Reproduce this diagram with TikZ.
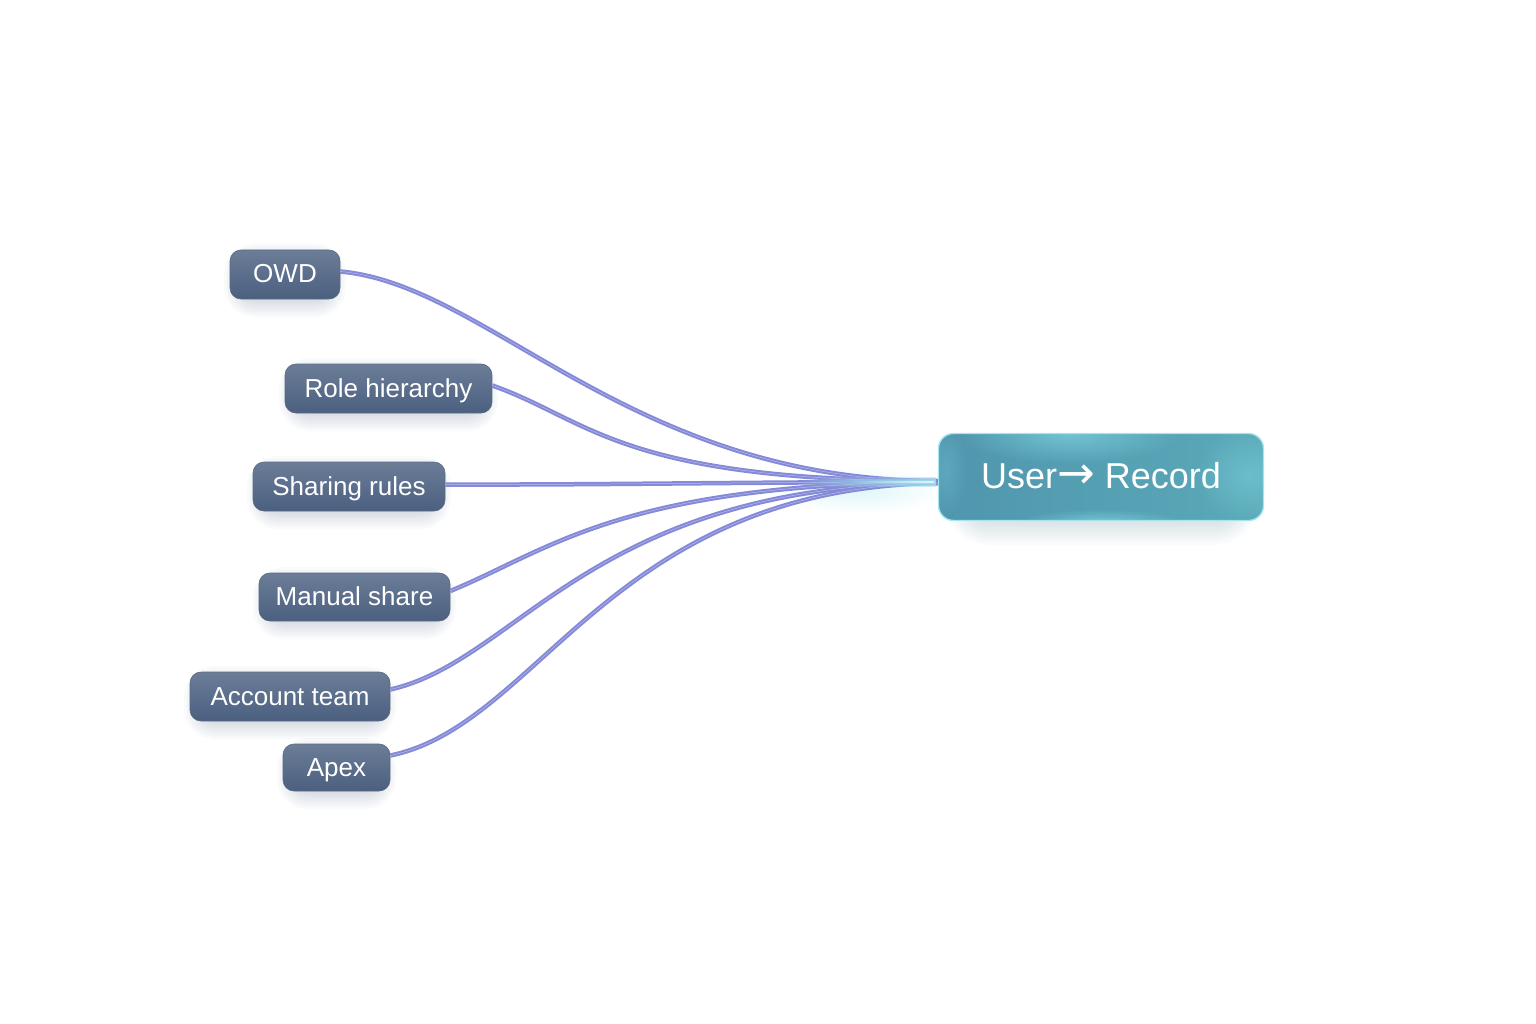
\documentclass[tikz,border=0pt]{standalone}
\usepackage{fontspec}
\setmainfont{Liberation Sans}
\newfontfamily\arrowfont{DejaVu Sans}
\usetikzlibrary{fadings}
\definecolor{linkcol}{HTML}{8489D8}
\definecolor{linklight}{HTML}{B4B8EC}
\definecolor{slatetop}{HTML}{6B7D97}
\definecolor{slatebot}{HTML}{4B5F80}
\definecolor{tealleft}{HTML}{5096AE}
\definecolor{tealright}{HTML}{5AA9B8}
\definecolor{glowcol}{HTML}{86DCE8}
\tikzfading[name=softspot, inner color=transparent!15, outer color=transparent!100]
\tikzfading[name=fadeinright, left color=transparent!100, right color=transparent!0]
\tikzset{
	source/.style={rounded corners=11pt, top color=slatetop, bottom color=slatebot, draw=slatetop!85!black, line width=0.6pt, text=white, font=\fontsize{26}{30}\selectfont, inner sep=0pt, text height=23pt, text depth=6pt},
	goal/.style={rounded corners=15pt, left color=tealleft, right color=tealright, draw=glowcol!75!white, line width=1.4pt, text=white, font=\fontsize{36}{42}\selectfont, inner sep=0pt},
	link/.style={draw=linkcol, line width=2pt, double=linklight, double distance=0.5pt},
}
\begin{document}
\begin{tikzpicture}[x=1pt,y=-1pt]
	\useasboundingbox (0,0) rectangle (1536,1024);
	% shadows and boxes on the left
	\foreach \nm/\cx/\cy/\bw/\bh/\lbl in {owd/285/274.5/110/49/OWD, role/388.5/388.5/207/49/Role hierarchy, sharing/349/486.5/192/49/Sharing rules, manual/354.5/597/191/48/Manual share, account/290/696.5/200/49/Account team, apex/336.5/767.5/107/47/Apex} {
		\foreach \s in {1,...,8}
			\draw[line width=5*\s pt, rounded corners=11pt, draw=slatebot, fill=slatebot, opacity=0.03] (\cx-\bw/2+14,\cy-\bh/2+14) rectangle (\cx+\bw/2-14,\cy+\bh/2-2);
		\node[source, minimum width=\bw pt, minimum height=\bh pt] (\nm) at (\cx,\cy) {\lbl};
	}
	% shadow of the record box
	\foreach \s in {1,...,10}
		\draw[line width=6*\s pt, rounded corners=15pt, draw=tealleft!70!black, fill=tealleft!70!black, opacity=0.025] (975,480) rectangle (1228,515);
	\node[goal, minimum width=325pt, minimum height=87pt] (target) at (1101,477) {};
	% glow inside the box
	\begin{scope}
		\clip[rounded corners=15pt] (939,434) rectangle (1263,520);
		\fill[glowcol, opacity=0.7, path fading=softspot] (1070,434) ellipse (110 and 30);
		\fill[glowcol, opacity=0.5, path fading=softspot] (1250,475) ellipse (55 and 50);
		\fill[glowcol, opacity=0.7, path fading=softspot] (1100,521) ellipse (80 and 12);
		\fill[glowcol, opacity=0.3, path fading=softspot] (945,470) ellipse (22 and 50);
	\end{scope}
	\node[text=white, font=\fontsize{36}{42}\selectfont] (caption) at (1101,476) {User{\arrowfont\fontsize{45}{45}\selectfont →} Record};
	% halo under the bundle
	\fill[glowcol, opacity=0.3, path fading=softspot] (860,490) ellipse (85 and 24);
	% connectors
	\draw[link] (owd.east) ++(0,-3) .. controls (490,285) and (630,481) .. ([yshift=-4pt]target.west);
	\draw[link] (role.east) ++(0,-3) .. controls (590,420) and (620,481) .. ([yshift=-4pt]target.west);
	\draw[link] (sharing.east) ++(0,-2) .. controls (600,485) and (750,482) .. ([yshift=-5pt]target.west);
	\draw[link] (manual.east) ++(0,-6) .. controls (550,550) and (620,484) .. ([yshift=-5pt]target.west);
	\draw[link] (account.east) ++(0,-7) .. controls (520,660) and (590,485) .. ([yshift=-6pt]target.west);
	\draw[link] (apex.east) ++(0,-12) .. controls (540,725) and (610,488) .. ([yshift=-6pt]target.west);
	% bright end of the bundle
	\foreach \h in {5,3.5,2}
		\fill[glowcol!80!white, opacity=0.55, path fading=fadeinright] (800,482-\h) rectangle (936,482+\h);
	\fill[white, opacity=0.7, path fading=fadeinright] (850,481.2) rectangle (934,482.8);
\end{tikzpicture}
\end{document}
